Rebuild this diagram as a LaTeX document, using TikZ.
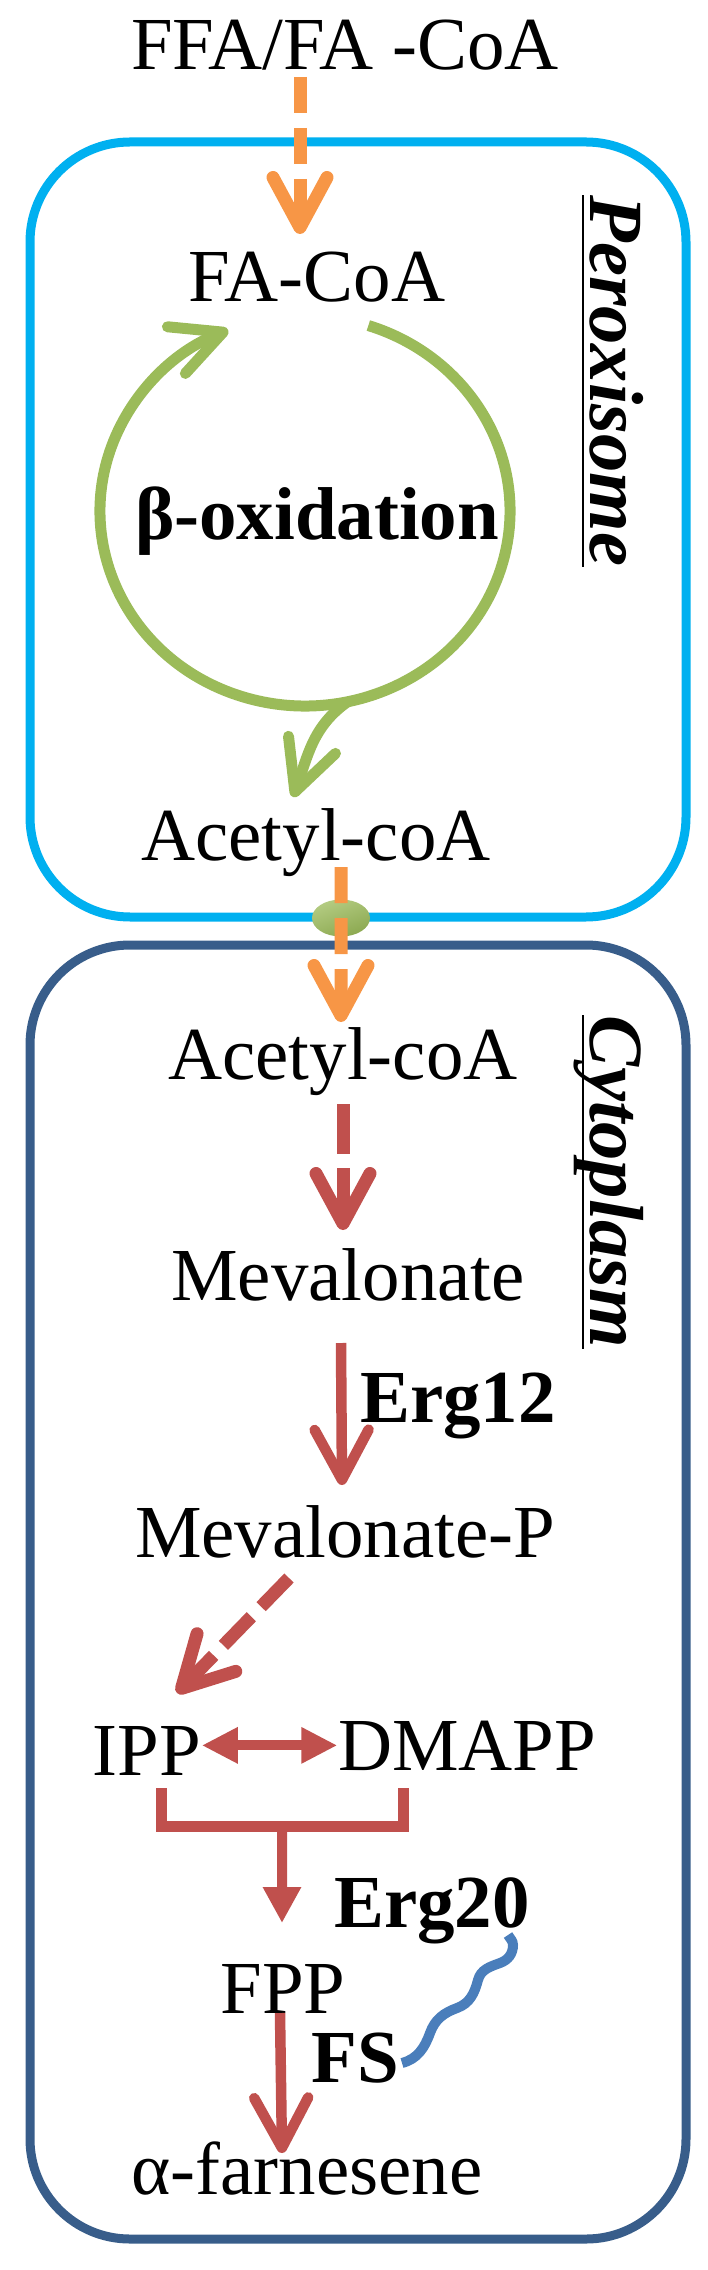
\documentclass[tikz,border=0pt]{standalone}
\usepackage{fontspec}
\setmainfont{Liberation Serif}
\usetikzlibrary{calc, arrows.meta, shapes.geometric}

\definecolor{perblue}{HTML}{00B0F0}
\definecolor{cytblue}{HTML}{385D8A}
\definecolor{fluxorange}{HTML}{F79646}
\definecolor{cyclegreen}{HTML}{9BBB59}
\definecolor{mvared}{HTML}{C0504D}
\definecolor{fsblue}{HTML}{4A7EBB}

\begin{document}
\begin{tikzpicture}[
		met/.style={inner sep=0pt, anchor=base, font=\fontsize{21.3}{25}\selectfont},
		enz/.style={met, font=\fontsize{21.3}{25}\selectfont\bfseries},
		comp/.style={met, font=\fontsize{21.8}{25}\selectfont\bfseries\itshape, rotate=-90},
		barb/.style={-{Straight Barb[length=.5cm, width=.54cm, round]}},
		orangeflux/.style={barb, fluxorange, line width=.13cm, dash pattern=on .36cm off .15cm},
		reddash/.style={barb, mvared, line width=.13cm, dash pattern=on .5cm off .14cm},
		redflux/.style={barb, mvared, line width=.105cm},
		redtri/.style={mvared, line width=.1cm},
		cycle/.style={cyclegreen, line width=.11cm, -{Straight Barb[length=.5cm, width=.5cm, round]}}
	]
	\useasboundingbox (0,0) rectangle (7.08,-22.70);
	
	% compartimentos
	\draw[perblue, line width=.09cm, rounded corners=1cm] (0.30,-1.42) rectangle (6.86,-9.17);
	\draw[cytblue, line width=.09cm, rounded corners=1cm] (0.30,-9.45) rectangle (6.86,-22.39);
	\node[ellipse, inner sep=0pt, minimum width=.58cm, minimum height=.37cm, top color=cyclegreen!75!white, bottom color=cyclegreen!90!black, shading angle=20] (pore) at (3.41,-9.18) {};
	
	\node[comp] (perox) at (5.90,-3.81) {Peroxisome};
	\node[comp] (cyto) at (5.90,-11.82) {Cytoplasm};
	\draw[line width=.025cm] ([xshift=-.07cm]perox.base west) -- ([xshift=-.07cm]perox.base east);
	\draw[line width=.025cm] ([xshift=-.07cm]cyto.base west) -- ([xshift=-.07cm]cyto.base east);
	
	% metabolitos
	\node[met] (ffa) at (3.45,-0.70) {FFA/FA -CoA};
	\node[met] (facoa) at (3.17,-3.02) {FA-CoA};
	\node[enz] (beta) at (3.17,-5.40) {β-oxidation};
	\node[met] (acp) at (3.16,-8.60) {Acetyl-coA};
	\node[met] (acc) at (3.43,-10.79) {Acetyl-coA};
	\node[met] (mev) at (3.48,-13.00) {Mevalonate};
	\node[enz] (erg12) at (4.58,-14.22) {Erg12};
	\node[met] (mevp) at (3.45,-15.57) {Mevalonate-P};
	\node[met] (ipp) at (1.47,-17.75) {IPP};
	\node[met] (dmapp) at (4.67,-17.70) {DMAPP};
	\node[enz] (erg20) at (4.32,-19.27) {Erg20};
	\node[met] (fpp) at (2.83,-20.13) {FPP};
	\node[enz] (fs) at (3.55,-20.82) {FS};
	\node[met] (far) at (3.07,-21.94) {α-farnesene};
	
	% beta-oxidacion
	\coordinate (cyc) at (3.05,-5.11);
	\draw[cycle] (cyc) ++(72:2.05 and 1.95) arc[start angle=72, end angle=-248, x radius=2.05, y radius=1.95];
	\draw[cycle] (cyc) ++(-78:2.05 and 1.95) to[out=215, in=70] ($(acp.base)+(-.23,.63)$);
	
	% transporte
	\draw[orangeflux] ($(ffa.base)+(-.45,-.07)$) -- ($(facoa.base)+(-.17,.68)$);
	\draw[orangeflux] ($(acp.base)+(.25,-.07)$) -- ($(acc.base)+(-.02,.57)$);
	
	% ruta MVA
	\draw[reddash] ($(acc.base)+(0,-.25)$) -- ($(mev.base)+(-.05,.70)$);
	\draw[redflux] ($(mev.base)+(-.07,-.43)$) -- ($(mevp.base)+(-.03,.72)$);
	\draw[reddash, dash pattern=on .4cm off .14cm] ($(mevp.base)+(-.56,-.21)$) -- ($(ipp.base)+(.30,.82)$);
	\draw[redtri, {Triangle[length=.36cm, width=.34cm]}-{Triangle[length=.36cm, width=.34cm]}] (ipp.east |- dmapp.west) -- (dmapp.west);
	\draw[redtri, line width=.11cm] ($(ipp.base)+(.14,-.13)$) coordinate (bl) -- ++(0,-.38) coordinate (bm) -- ++(2.42,0) coordinate (br) -- ++(0,.38);
	\draw[redtri, -{Triangle[length=.36cm, width=.36cm]}] ($(bm)!.5!(br)$) -- ($(fpp.base)+(-.01,.90)$);
	\draw[redflux] ($(fpp.base)+(-.03,0)$) -- ($(far.base)+(-.25,.41)$);
	
	% FS - Erg20
	\draw[fsblue, line width=.10cm] ($(fs.base)+(.47,.19)$) to[out=15, in=-110] (4.30,-20.33) to[out=70, in=200] (4.57,-20.08)
		to[out=20, in=-105] (4.78,-19.80) to[out=75, in=200] (5.00,-19.63) to[out=20, in=-90] (5.13,-19.45) to[out=90, in=-60] (5.08,-19.35);
\end{tikzpicture}
\end{document}
